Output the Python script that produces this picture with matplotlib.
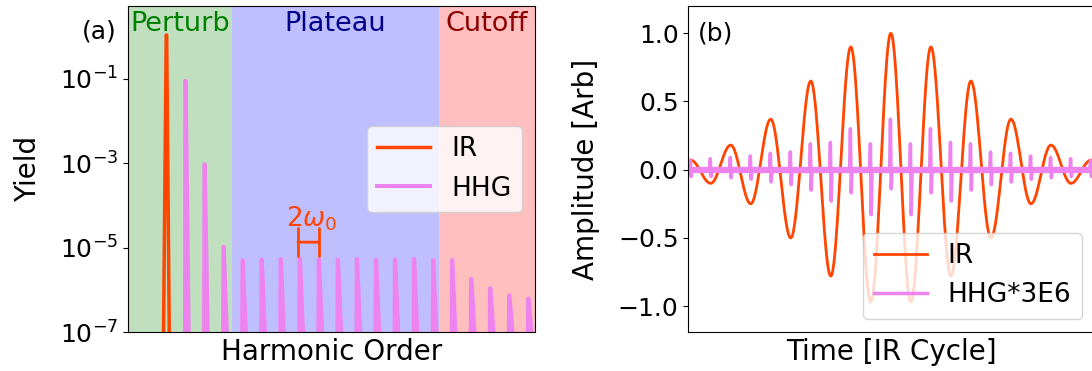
import numpy as np
import matplotlib.pyplot as plt

plt.rcParams["font.size"] = 18

# ---- panel (a): spectrum ----
ir_order = [1]
ir_yield = [1.1]
hhg_order = [3, 5, 7, 9, 11, 13, 15, 17, 19, 21, 23, 25, 27, 29, 31, 33, 35, 37, 39]
hhg_yield = [9.0e-2, 9.5e-4, 1.05e-5, 5.0e-6, 5.2e-6, 5.4e-6, 5.5e-6, 5.2e-6, 5.2e-6,
             5.4e-6, 5.1e-6, 5.2e-6, 5.4e-6, 5.1e-6, 5.1e-6, 1.8e-6, 1.1e-6, 7.4e-7, 6.2e-7]
region_names = ["Perturb", "Plateau", "Cutoff"]
region_edges = [-3, 7.9, 29.6, 39.7]
region_fill = ["green", "blue", "red"]
region_text = ["green", "darkblue", "darkred"]

# ---- panel (b): time domain ----
ir_t = [-5.5, -5.0, -4.5, -4.0, -3.5, -3.0, -2.5, -2.0, -1.5, -1.0, -0.5, 0.0,
        0.5, 1.0, 1.5, 2.0, 2.5, 3.0, 3.5, 4.0, 4.5, 5.0, 5.5]
ir_amp = [-0.04, 0.07, -0.10, 0.18, -0.25, 0.37, -0.50, 0.65, -0.78, 0.90, -0.97, 1.00,
          -0.97, 0.90, -0.78, 0.65, -0.50, 0.37, -0.25, 0.18, -0.10, 0.07, -0.04]
hhg_t = [-5.0, -4.5, -4.0, -3.5, -3.0, -2.5, -2.0, -1.5, -1.0, -0.5, 0.0,
         0.5, 1.0, 1.5, 2.0, 2.5, 3.0, 3.5, 4.0, 4.5, 5.0]
hhg_up = [0.07, 0.08, 0.09, 0.10, 0.12, 0.13, 0.19, 0.20, 0.30, 0.19, 0.37,
          0.19, 0.30, 0.20, 0.19, 0.13, 0.12, 0.10, 0.09, 0.08, 0.07]
hhg_down = [0.05, 0.05, 0.06, 0.07, 0.09, 0.11, 0.15, 0.23, 0.17, 0.33, 0.14,
            0.33, 0.17, 0.23, 0.15, 0.11, 0.09, 0.07, 0.06, 0.05, 0.05]


def spikes(centers, heights, left, right, floor):
    xs, ys = [], []
    for c, h in zip(centers, heights):
        xs += [c - left, c - 0.02, c + 0.03, c + right, np.nan]
        ys += [floor, h, h, floor, np.nan]
    return xs, ys


def through_extrema(ts, vs, n=40):
    tt, vv = [], []
    for i in range(len(ts) - 1):
        s = np.linspace(0, 1, n, endpoint=False)
        w = (1 - np.cos(np.pi * s)) / 2
        tt.append(ts[i] + (ts[i + 1] - ts[i]) * s)
        vv.append(vs[i] + (vs[i + 1] - vs[i]) * w)
    return np.concatenate(tt), np.concatenate(vv)


fig = plt.figure(figsize=(10.92, 3.71), dpi=100)
ax1 = fig.add_axes([128.3 / 1092, 39 / 371, 406.7 / 1092, 326 / 371])
ax2 = fig.add_axes([688.3 / 1092, 39 / 371, 406.7 / 1092, 326 / 371])

# (a)
for i, name in enumerate(region_names):
    ax1.axvspan(region_edges[i], region_edges[i + 1], color=region_fill[i], alpha=0.25, lw=0)
    ax1.text((region_edges[i] + region_edges[i + 1]) / 2, 0.985, name, color=region_text[i],
             ha="center", va="top", fontsize=19.5, transform=ax1.get_xaxis_transform())

x, y = spikes(ir_order, ir_yield, 0.3, 0.3, 1e-7)
ax1.plot(x, y, color="orangered", lw=2.5, solid_joinstyle="round", label="IR")
x, y = spikes(hhg_order, hhg_yield, 0.05, 0.35, 1e-7)
ax1.plot(x, y, color="violet", lw=2.8, solid_joinstyle="round", label="HHG")

ax1.annotate("", xy=(14.8, 1.35e-5), xytext=(17.0, 1.35e-5),
             arrowprops=dict(arrowstyle="|-|,widthA=0.5,widthB=0.5", color="orangered",
                             lw=2, shrinkA=0, shrinkB=0, mutation_scale=20))
ax1.text(16.3, 4.8e-5, r"$2\omega_0$", color="orangered", ha="center", va="center", fontsize=19)

ax1.set_yscale("log")
ax1.set_ylim(1e-7, 10 ** 0.731)
ax1.set_xlim(region_edges[0], region_edges[-1])
ax1.set_yticks([1e-7, 1e-5, 1e-3, 1e-1])
ax1.minorticks_off()
ax1.set_xticks([])
ax1.set_xlabel("Harmonic Order", fontsize=20)
ax1.set_ylabel("Yield", fontsize=20, labelpad=13)
ax1.legend(loc="center right", fontsize=19)
ax1.text(-0.072, 0.923, "(a)", transform=ax1.transAxes, ha="center", va="center", fontsize=18)

# (b)
t, e = through_extrema(ir_t, ir_amp)
ax2.plot(t, e, color="orangered", lw=2, label="IR")
hx, hy = [], []
for tc, up, dn in zip(hhg_t, hhg_up, hhg_down):
    hx += [tc - 0.03, tc - 0.01, tc + 0.01, tc + 0.03]
    hy += [0, up, -dn, 0]
ax2.plot(hx, hy, color="violet", lw=2.5, label="HHG*3E6")
ax2.plot([ir_t[0], ir_t[-1]], [0, 0], color="violet", lw=4.5)

ax2.set_xlim(-5.06, 5.10)
ax2.set_ylim(-1.19, 1.2)
ax2.set_xticks([])
ax2.set_yticks([-1.0, -0.5, 0.0, 0.5, 1.0])
ax2.set_xlabel("Time [IR Cycle]", fontsize=20)
ax2.set_ylabel("Amplitude [Arb]", fontsize=20, labelpad=13)
ax2.legend(loc="lower right", fontsize=19)
ax2.text(0.068, 0.917, "(b)", transform=ax2.transAxes, ha="center", va="center", fontsize=18)

fig.savefig("out.png", dpi=100)
